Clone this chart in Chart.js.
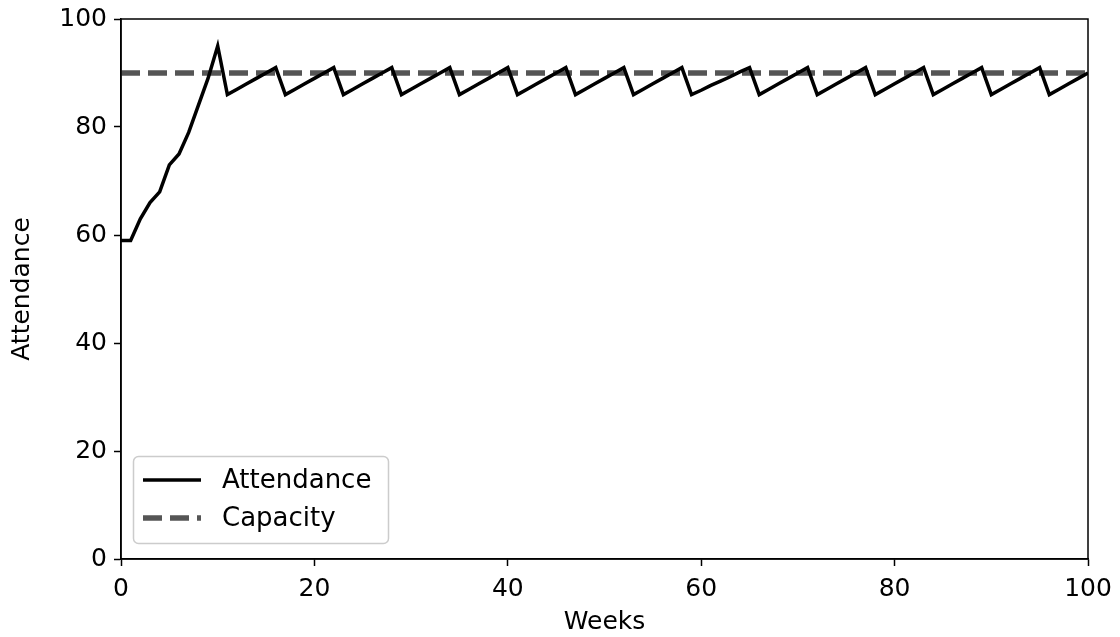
<!DOCTYPE html>
<html>
<head>
<meta charset="utf-8">
<script src="https://cdn.jsdelivr.net/npm/chart.js@4"></script>
<style>
  html, body { margin: 0; padding: 0; background: #fff; }
  #wrap { width: 1120px; height: 637px; }
</style>
</head>
<body>
<div id="wrap"><canvas id="chart" width="1120" height="637"></canvas></div>
<script>
// weeks 0..100 and the attendance
var weeks = [];
for (var w = 0; w <= 100; w++) weeks.push(w);

var attendance = [
  59, 59, 63, 66, 68, 73, 75, 79, 84, 89, 95,
  86, 87, 88, 89, 90, 91,
  86, 87, 88, 89, 90, 91,
  86, 87, 88, 89, 90, 91,
  86, 87, 88, 89, 90, 91,
  86, 87, 88, 89, 90, 91,
  86, 87, 88, 89, 90, 91,
  86, 87, 88, 89, 90, 91,
  86, 87, 88, 89, 90, 91,
  86, 86.8, 87.7, 88.5, 89.3, 90.2, 91,
  86, 87, 88, 89, 90, 91,
  86, 87, 88, 89, 90, 91,
  86, 87, 88, 89, 90, 91,
  86, 87, 88, 89, 90, 91,
  86, 87, 88, 89, 90, 91,
  86, 87, 88, 89, 90
];

var capacityWeeks = [0, 100];
var capacity = [90, 90];

var xTicks = [0, 20, 40, 60, 80, 100];
var yTicks = [0, 20, 40, 60, 80, 100];

var FONT = "'DejaVu Sans', sans-serif";

function toPoints(xs, ys) {
  return xs.map(function (x, i) { return { x: x, y: ys[i] }; });
}

// frame on top/right plus a matplotlib style legend inside the plot
var framePlugin = {
  id: 'frame',
  afterDatasetsDraw: function (chart) {
    var ctx = chart.ctx, a = chart.chartArea;
    ctx.save();
    ctx.strokeStyle = '#000';
    ctx.lineWidth = 1.5;
    ctx.strokeRect(a.left, a.top, a.right - a.left, a.bottom - a.top);

    // legend box
    var bx = 133.5, by = 456.5, bw = 255, bh = 87, r = 5;
    ctx.beginPath();
    ctx.moveTo(bx + r, by);
    ctx.arcTo(bx + bw, by, bx + bw, by + bh, r);
    ctx.arcTo(bx + bw, by + bh, bx, by + bh, r);
    ctx.arcTo(bx, by + bh, bx, by, r);
    ctx.arcTo(bx, by, bx + bw, by, r);
    ctx.closePath();
    ctx.fillStyle = 'rgba(255,255,255,0.8)';
    ctx.fill();
    ctx.strokeStyle = '#cccccc';
    ctx.lineWidth = 1.5;
    ctx.stroke();

    var items = chart.data.datasets;
    var rows = [480, 518];
    ctx.font = '26px ' + FONT;
    ctx.textBaseline = 'middle';
    items.forEach(function (ds, i) {
      ctx.beginPath();
      ctx.strokeStyle = ds.borderColor;
      ctx.lineWidth = ds.borderWidth;
      ctx.setLineDash(ds.borderDash || []);
      ctx.moveTo(143, rows[i]);
      ctx.lineTo(201, rows[i]);
      ctx.stroke();
      ctx.setLineDash([]);
      ctx.fillStyle = '#000';
      ctx.fillText(ds.label, 222, rows[i] + 1);
    });
    ctx.restore();
  }
};

new Chart(document.getElementById('chart').getContext('2d'), {
  type: 'line',
  data: {
    datasets: [{
      label: 'Attendance',
      data: toPoints(weeks, attendance),
      borderColor: '#000000',
      borderWidth: 3.5,
      pointRadius: 0,
      tension: 0,
      fill: false
    }, {
      label: 'Capacity',
      data: toPoints(capacityWeeks, capacity),
      borderColor: '#555555',
      borderWidth: 5.5,
      borderDash: [19, 8],
      pointRadius: 0,
      fill: false
    }]
  },
  options: {
    responsive: false,
    animation: false,
    layout: { padding: { top: 19, right: 32, left: 0, bottom: 0 } },
    plugins: {
      legend: { display: false },
      tooltip: { enabled: false }
    },
    scales: {
      x: {
        type: 'linear',
        min: 0,
        max: 100,
        afterBuildTicks: function (s) { s.ticks = xTicks.map(function (v) { return { value: v }; }); },
        afterFit: function (s) { s.height = 78; s.paddingLeft = 0; s.paddingRight = 0; },
        grid: { drawOnChartArea: false, drawTicks: true, tickLength: 7, color: '#000', tickWidth: 1.5 },
        border: { color: '#000', width: 1.5 },
        ticks: { color: '#000', font: { family: FONT, size: 25 }, padding: 8, maxRotation: 0 },
        title: { display: true, text: 'Weeks', color: '#000', font: { family: FONT, size: 25 }, padding: { top: 0, bottom: 0 } }
      },
      y: {
        min: 0,
        max: 100,
        afterBuildTicks: function (s) { s.ticks = yTicks.map(function (v) { return { value: v }; }); },
        afterFit: function (s) { s.width = 121; s.paddingTop = 0; s.paddingBottom = 0; },
        grid: { drawOnChartArea: false, drawTicks: true, tickLength: 7, color: '#000', tickWidth: 1.5 },
        border: { color: '#000', width: 1.5 },
        ticks: { color: '#000', font: { family: FONT, size: 25 }, padding: 7 },
        title: { display: true, text: 'Attendance', color: '#000', font: { family: FONT, size: 25 }, padding: { top: 7, bottom: 0 } }
      }
    }
  },
  plugins: [framePlugin]
});
</script>
</body>
</html>
